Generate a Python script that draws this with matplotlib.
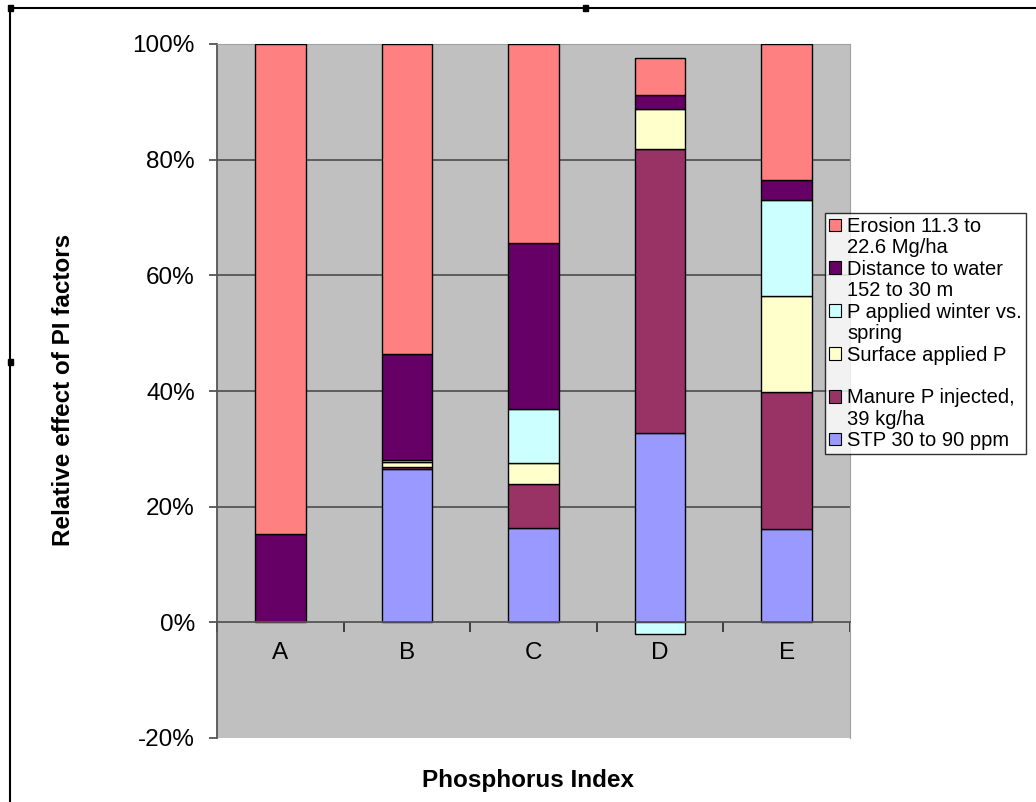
import matplotlib
matplotlib.use("Agg")
import matplotlib.pyplot as plt
import numpy as np
from matplotlib.lines import Line2D
from matplotlib.patches import Rectangle, Patch

plt.rcParams['font.family'] = ['Liberation Sans', 'DejaVu Sans']

categories = ["A", "B", "C", "D", "E"]
series_names = ["STP 30 to 90 ppm",
                "Manure P injected,\n39 kg/ha",
                "Surface applied P\n ",
                "P applied winter vs.\nspring",
                "Distance to water\n152 to 30 m",
                "Erosion 11.3 to\n22.6 Mg/ha"]
stp      = [0.0, 26.5, 16.3, 32.8, 16.1]
manure   = [0.0, 0.4, 7.7, 49.0, 23.8]
surface  = [0.0, 0.8, 3.5, 6.9, 16.5]
winter   = [0.0, 0.4, 9.4, -2.0, 16.6]
distance = [15.3, 18.3, 28.7, 2.4, 3.5]
erosion  = [84.7, 53.6, 34.4, 6.5, 23.5]
colors = ["#9999FF", "#993366", "#FFFFCC", "#CCFFFF", "#660066", "#FF8080"]
yticks = [-20, 0, 20, 40, 60, 80, 100]

W, H = 1036, 802
fig = plt.figure(figsize=(W/100, H/100), dpi=100)
ax = fig.add_axes([217/W, 1-738/H, (850-217)/W, (738-44)/H])
ax.set_facecolor("#C0C0C0")

x = np.arange(len(categories))
pos_base = np.zeros(len(categories))
neg_base = np.zeros(len(categories))
for vals, col in zip([stp, manure, surface, winter, distance, erosion], colors):
    vals = np.array(vals, dtype=float)
    bottoms = np.where(vals >= 0, pos_base, neg_base)
    mask = vals != 0
    ax.bar(x[mask], vals[mask], bottom=bottoms[mask], width=0.4, color=col,
           edgecolor="black", linewidth=1.0, zorder=3)
    pos_base = pos_base + np.where(vals > 0, vals, 0)
    neg_base = neg_base + np.where(vals < 0, vals, 0)

ax.set_xlim(-0.5, 4.5)
ax.set_ylim(-20, 100)
ax.set_yticks(yticks)
ax.set_yticklabels([f"{v}%" for v in yticks], fontsize=17.5)
for v in yticks:
    if v not in (0, -20, 100):
        ax.axhline(v, color="#555555", linewidth=1.3, zorder=1)

ax.spines['bottom'].set_position(('data', 0))
ax.spines['bottom'].set_color("#555555")
ax.spines['bottom'].set_linewidth(1.3)
ax.spines['bottom'].set_zorder(4)
ax.spines['left'].set_color("#555555")
ax.spines['left'].set_linewidth(1.3)
ax.spines['top'].set_color("#A0A0A0")
ax.spines['right'].set_color("#A0A0A0")
ax.set_xticks(np.arange(-0.5, 4.6, 1.0))
ax.set_xticklabels([])
ax.set_xticks(x, minor=True)
ax.set_xticklabels(categories, minor=True, fontsize=17.5)
ax.tick_params(axis='x', which='major', direction='out', length=7, color="#333333", width=1.3)
ax.tick_params(axis='x', which='minor', length=0, pad=14)
ax.tick_params(axis='y', direction='out', length=6, color="#555555", width=1.3, pad=10)

fig.text(64/W, 1-390/H, "Relative effect of PI factors", rotation=90,
         fontsize=17.5, fontweight='bold', ha='center', va='center')
fig.text(528/W, 1-780/H, "Phosphorus Index", fontsize=17.5, fontweight='bold',
         ha='center', va='center')

# legend: one row per text line, swatch only on the first line of each entry
handles, labels = [], []
for name, col in list(zip(series_names, colors))[::-1]:
    lines = name.split("\n")
    handles.append(Patch(facecolor=col, edgecolor="black", linewidth=0.8))
    labels.append(lines[0])
    for extra in lines[1:]:
        handles.append(Patch(facecolor="none", edgecolor="none"))
        labels.append(extra)
leg = fig.legend(handles, labels, loc='upper left',
                 bbox_to_anchor=(825/W, 1-213/H), fontsize=14.5,
                 frameon=True, fancybox=False, edgecolor="black",
                 handlelength=0.6, handleheight=0.6, handletextpad=0.3,
                 borderpad=0.2, labelspacing=0.12, borderaxespad=0)
leg.get_frame().set_linewidth(1.0)

# outer frame
fig.add_artist(Line2D([10/W, 10/W], [0, 1-8/H], color="black", linewidth=1.5, transform=fig.transFigure))
fig.add_artist(Line2D([10/W, 1], [1-8/H, 1-8/H], color="black", linewidth=1.5, transform=fig.transFigure))
for (px, py) in [(10, 8), (585, 8), (10, 362)]:
    fig.add_artist(Rectangle(((px-2)/W, 1-(py+3)/H), 5/W, 6/H, color="black",
                             transform=fig.transFigure))

fig.savefig("out.png", dpi=100)
